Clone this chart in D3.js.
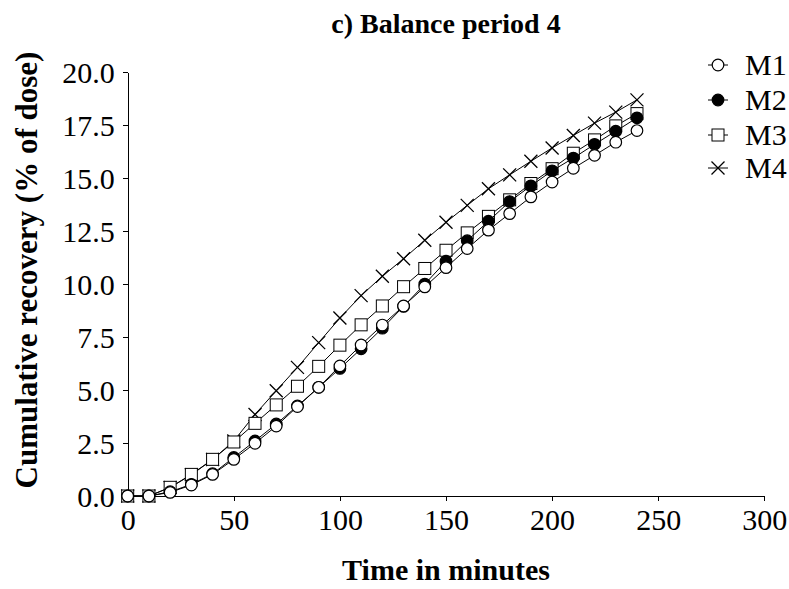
<!DOCTYPE html>
<html><head><meta charset="utf-8">
<script src="https://cdn.jsdelivr.net/npm/d3@7/dist/d3.min.js"></script>
<style>
body{margin:0;background:#fff}
svg{display:block}
svg text{font-family:"Liberation Serif","Tinos","Times New Roman","Times","Noto Serif","DejaVu Serif",serif !important;fill:#000}
</style>
</head><body>
<svg id="chart" width="789" height="589"></svg>
<script>
const times = [0,10,20,30,40,50,60,70,80,90,100,110,120,130,140,150,160,170,180,190,200,210,220,230,240];
const seriesNames = ["M1","M2","M3","M4"];
const m1 = [0,0,0.17,0.52,1.02,1.73,2.49,3.30,4.22,5.13,6.14,7.13,8.07,8.97,9.87,10.78,11.68,12.55,13.33,14.12,14.82,15.47,16.08,16.70,17.25];
const m2 = [0,0,0.20,0.55,1.05,1.82,2.60,3.40,4.25,5.13,6.02,6.95,7.92,8.95,10.00,11.08,12.05,12.97,13.90,14.64,15.35,15.95,16.60,17.22,17.85];
const m3 = [0,0,0.41,1.02,1.73,2.55,3.43,4.30,5.18,6.12,7.12,8.08,8.97,9.88,10.74,11.60,12.42,13.20,13.98,14.75,15.45,16.18,16.81,17.47,18.05];
const m4 = [0,0,0.40,1.00,1.72,2.60,3.85,4.97,6.07,7.24,8.40,9.46,10.37,11.20,12.07,12.92,13.72,14.50,15.16,15.80,16.43,17.02,17.60,18.12,18.70];
const xTicks = [0,50,100,150,200,250,300];
const yTicks = [0,2.5,5,7.5,10,12.5,15,17.5,20];
const titleText = "c) Balance period 4";
const xTitle = "Time in minutes";
const yTitle = "Cumulative recovery (% of dose)";

const svg = d3.select("#chart");
const L = 127.7, R = 764.3, T = 72.3, B = 496;
const x = d3.scaleLinear().domain([0,300]).range([L,R]);
const y = d3.scaleLinear().domain([0,20]).range([B,T]);

const series = [
  {name:"M1", values:m1, sym:"circleOpen"},
  {name:"M2", values:m2, sym:"circleFilled"},
  {name:"M3", values:m3, sym:"square"},
  {name:"M4", values:m4, sym:"cross"}
];

const xAxis = d3.axisBottom(x).tickValues(xTicks).tickSize(5).tickSizeOuter(0).tickPadding(8).tickFormat(d3.format("d"));
const yAxis = d3.axisLeft(y).tickValues(yTicks).tickSize(5).tickSizeOuter(0).tickPadding(8).tickFormat(d3.format(".1f"));
const gx = svg.append("g").attr("transform",`translate(0,${B})`).call(xAxis);
const gy = svg.append("g").attr("transform",`translate(${L},0)`).call(yAxis);
[gx,gy].forEach(g=>{
  g.attr("font-family",null).attr("font-size",null);
  g.selectAll("path,line").attr("stroke","#000").attr("stroke-width",1).attr("shape-rendering","crispEdges");
  g.selectAll("text").attr("font-size",30).attr("fill","#000");
});
gy.selectAll("text").attr("dy","0.34em");

function drawMarker(g, sym, cx, cy){
  if(sym==="circleOpen"){
    g.append("circle").attr("cx",cx).attr("cy",cy).attr("r",5.8).attr("fill","#fff").attr("stroke","#000").attr("stroke-width",1.2);
  } else if(sym==="circleFilled"){
    g.append("circle").attr("cx",cx).attr("cy",cy).attr("r",5.8).attr("fill","#000").attr("stroke","#000").attr("stroke-width",1.2);
  } else if(sym==="square"){
    g.append("rect").attr("x",cx-6).attr("y",cy-6).attr("width",12).attr("height",12).attr("fill","#fff").attr("stroke","#000").attr("stroke-width",1);
  } else {
    g.append("path").attr("d",`M${cx-6.5},${cy-6.5}L${cx+6.5},${cy+6.5}M${cx-6.5},${cy+6.5}L${cx+6.5},${cy-6.5}`).attr("stroke","#000").attr("stroke-width",1.3).attr("fill","none");
  }
}

const line = d3.line().x(d=>x(d[0])).y(d=>y(d[1]));
const plotG = svg.append("g");
series.slice().reverse().forEach(s=>{
  const pts = times.map((t,i)=>[t,s.values[i]]);
  const g = plotG.append("g");
  g.append("path").attr("d",line(pts)).attr("fill","none").attr("stroke","#000").attr("stroke-width",1);
  pts.forEach(p=>drawMarker(g,s.sym,x(p[0]),y(p[1])));
});

svg.append("text").attr("x",(L+R)/2).attr("y",33).attr("text-anchor","middle")
  .attr("font-size",28).attr("font-weight","bold").text(titleText);
svg.append("text").attr("x",(L+R)/2).attr("y",580).attr("text-anchor","middle")
  .attr("font-size",30).attr("font-weight","bold").text(xTitle);
svg.append("text").attr("transform",`translate(37,270) rotate(-90)`).attr("text-anchor","middle")
  .attr("font-size",31).attr("font-weight","bold").text(yTitle);

const legY = [65,100,135,168];
const lg = svg.append("g");
series.forEach((s,i)=>{
  const cx = 718, cy = legY[i];
  lg.append("line").attr("x1",cx-10).attr("x2",cx+10).attr("y1",cy).attr("y2",cy).attr("stroke","#000").attr("stroke-width",1);
  drawMarker(lg,s.sym,cx,cy);
  lg.append("text").attr("x",745).attr("y",cy).attr("dy","0.34em").attr("font-size",30).text(s.name);
});
</script>
</body></html>
